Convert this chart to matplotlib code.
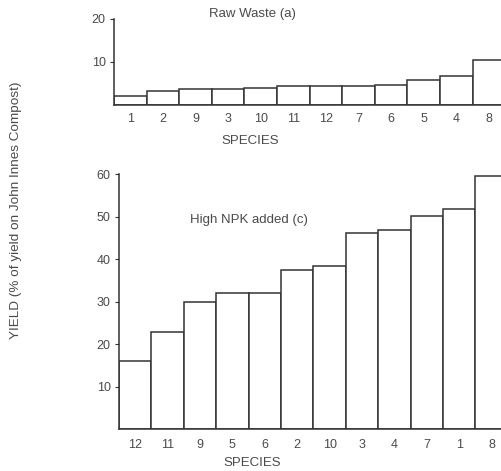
import matplotlib
matplotlib.use("Agg")
import matplotlib.pyplot as plt

# Daten
raw_species = ["1", "2", "9", "3", "10", "11", "12", "7", "6", "5", "4", "8"]
raw_yield = [2.1, 3.3, 3.7, 3.7, 3.9, 4.4, 4.4, 4.4, 4.6, 5.8, 6.8, 10.5]

npk_species = ["12", "11", "9", "5", "6", "2", "10", "3", "4", "7", "1", "8"]
npk_yield = [16.0, 22.9, 30.0, 32.0, 32.0, 37.5, 38.4, 46.2, 46.9, 50.1, 51.8, 59.6]

ink = "#333333"
txt = "#4a4a4a"
plt.rcParams["font.family"] = ["Liberation Sans", "DejaVu Sans"]
plt.rcParams["font.size"] = 9
plt.rcParams["text.color"] = txt
plt.rcParams["xtick.color"] = ink
plt.rcParams["ytick.color"] = ink
plt.rcParams["xtick.labelcolor"] = txt
plt.rcParams["ytick.labelcolor"] = txt

fig = plt.figure(figsize=(5.02, 4.71), dpi=100)

# Oberes Diagramm: Raw Waste
ax1 = fig.add_axes([0.227, 0.777, 0.773, 0.183])
ax1.bar(range(len(raw_yield)), raw_yield, width=1.0, color="white",
        edgecolor=ink, linewidth=1.1)
ax1.set_xlim(-0.5, 11.4)
ax1.set_ylim(0, 20)
ax1.set_yticks([10, 20])
ax1.set_xticks(range(len(raw_species)))
ax1.set_xticklabels(raw_species)
ax1.tick_params(axis="x", length=0, pad=6)
ax1.tick_params(axis="y", length=3, width=0.8, pad=3)
for s in ["top", "right"]:
    ax1.spines[s].set_visible(False)
for s in ["left", "bottom"]:
    ax1.spines[s].set_color(ink)
    ax1.spines[s].set_linewidth(1.1)

fig.text(0.502, 0.970, "Raw Waste (a)", ha="center", va="center", fontsize=9.5)
fig.text(0.498, 0.700, "SPECIES", ha="center", va="center", fontsize=9.5)

# Unteres Diagramm: High NPK
ax2 = fig.add_axes([0.237, 0.089, 0.763, 0.541])
ax2.bar(range(len(npk_yield)), npk_yield, width=1.0, color="white",
        edgecolor=ink, linewidth=1.1)
ax2.set_xlim(-0.5, 11.32)
ax2.set_ylim(0, 60)
ax2.set_yticks([10, 20, 30, 40, 50, 60])
ax2.set_xticks(range(len(npk_species)))
ax2.set_xticklabels(npk_species)
ax2.tick_params(axis="x", length=0, pad=7)
ax2.tick_params(axis="y", length=3, width=0.8, pad=3)
for s in ["top", "right"]:
    ax2.spines[s].set_visible(False)
for s in ["left", "bottom"]:
    ax2.spines[s].set_color(ink)
    ax2.spines[s].set_linewidth(1.1)

ax2.text(0.34, 0.82, "High NPK added (c)", transform=ax2.transAxes,
         ha="center", va="center", fontsize=9.5)
fig.text(0.502, 0.017, "SPECIES", ha="center", va="center", fontsize=9.5)

fig.text(0.031, 0.553, "YIELD (% of yield on John Innes Compost)",
         rotation=90, ha="center", va="center", fontsize=9.7)

fig.savefig("out.png", dpi=100)
